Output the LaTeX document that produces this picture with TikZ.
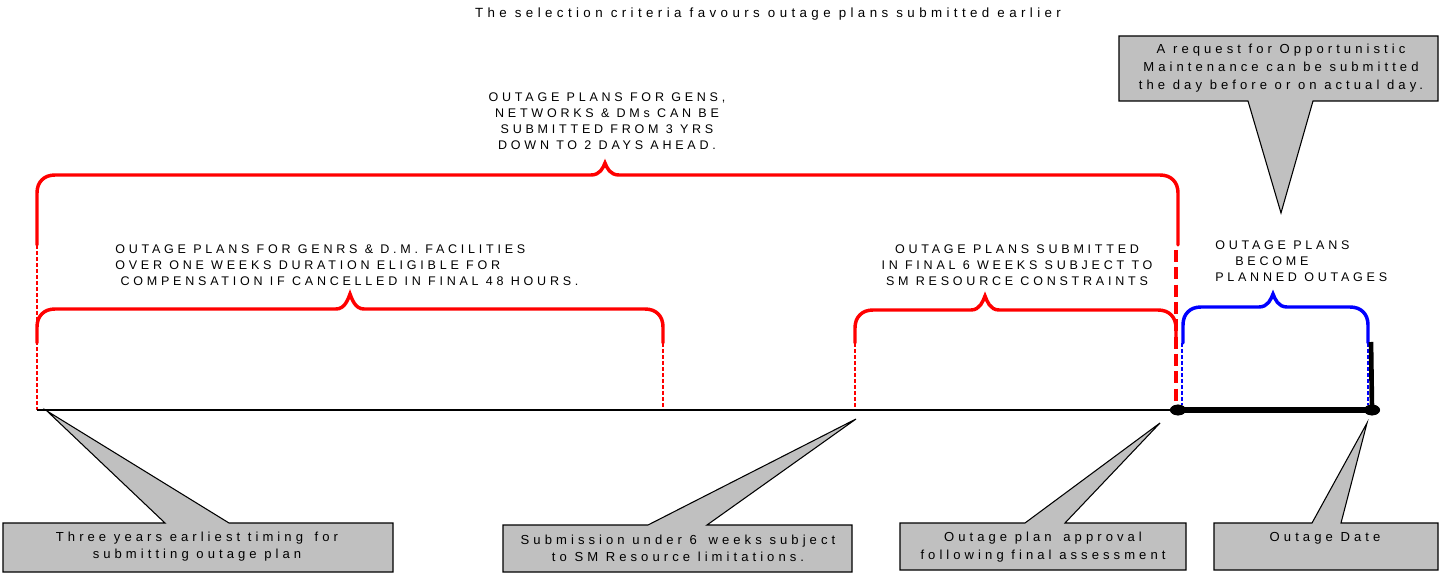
\documentclass[tikz,border=0pt]{standalone}
\usepackage{fontspec}
\setmainfont{Liberation Sans}[LetterSpace=30]
\newfontfamily\lowfont{Liberation Sans}[LetterSpace=33]
\newfontfamily\boxfont{Liberation Sans}[LetterSpace=31]
\usetikzlibrary{shapes.geometric}
\definecolor{cgray}{RGB}{192,192,192}
\newcommand{\drawbrace}[7]{% style, xL, xR, yt, xp, yp, yb
  \draw[#1] (#2,#7) -- (#2,{#4+18}) .. controls (#2,{#4+7}) and ({#2+7},#4) .. ({#2+18},#4)
    -- ({#5-14},#4) .. controls ({#5-5},#4) and ({#5-2},{#6+5}) .. (#5,#6)
    .. controls ({#5+2},{#6+5}) and ({#5+5},#4) .. ({#5+14},#4)
    -- ({#3-18},#4) .. controls ({#3-7},#4) and (#3,{#4+7}) .. (#3,{#4+18}) -- (#3,#7);}
\begin{document}
\begin{tikzpicture}[x=0.75pt,y=-0.75pt,
  txt/.style={inner sep=0pt, align=center, font=\fontsize{9.4}{12}\selectfont},
  ttxt/.style={inner sep=0pt, align=center, font=\lowfont\fontsize{10}{13}\selectfont},
  ctxt/.style={inner sep=0pt, align=center, font=\boxfont\fontsize{9.8}{13}\selectfont},
  redbrace/.style={draw=red, line width=2.6pt, line cap=round},
  bluebrace/.style={draw=blue, line width=2.6pt, line cap=round},
  reddot/.style={draw=red, line width=1.4pt, dash pattern=on 3pt off 1.5pt},
  bluedot/.style={draw=blue, line width=1.4pt, dash pattern=on 3pt off 1.5pt},
  reddash/.style={draw=red, line width=3pt, dash pattern=on 9pt off 4pt},
  callout/.style={fill=cgray, draw=black, line width=0.8pt, line join=miter},
  dotnode/.style={ellipse, fill=black, draw=none, minimum width=12pt, minimum height=8pt, inner sep=0pt}]
\useasboundingbox (0,0) rectangle (1439,573);

% title
\node[ttxt] (title) at (768,14) {The selection criteria favours outage plans submitted earlier};

% timeline points
\coordinate (t0) at (37,410);
\node[dotnode] (tA) at (1178,410) {};
\node[dotnode] (tB) at (1372,410) {};

% dotted guide lines
\draw[reddot] (37,245) -- (t0);
\draw[reddot] (663,343) -- (663,410);
\draw[reddot] (855,343) -- (855,410);
\draw[bluedot] (1182,343) -- (1182,405);
\draw[bluedot] (1368,343) -- (1368,405);
\draw[reddash] (1176,250) -- (1176,404);

% braces
\drawbrace{redbrace}{37}{1178}{175}{605}{163}{245}
\drawbrace{redbrace}{37}{663}{309}{350}{294}{343}
\drawbrace{redbrace}{855}{1176}{310}{985}{296}{343}
\drawbrace{bluebrace}{1183}{1368}{307}{1273}{294}{343}

% timeline
\draw[line width=2pt] (t0) -- (tA.center);
\draw[line width=4.5pt] (tA.center) -- (tB.center);
\draw[line width=3.5pt] (1371,342) -- (tB.center);
\node[dotnode] at (tA) {};
\node[dotnode] at (tB) {};

% brace labels
\node[txt] (lblAll) at (607,121.5) {OUTAGE PLANS FOR GENS,\\NETWORKS \& DMs CAN BE\\SUBMITTED FROM 3 YRS\\ DOWN TO 2 DAYS AHEAD.};
\node[txt, align=left, anchor=west] (lblComp) at (115,265) {OUTAGE PLANS FOR GENRS \& D.M. FACILITIES\\OVER ONE WEEKS DURATION ELIGIBLE FOR\\\hspace{4pt}COMPENSATION IF CANCELLED IN FINAL 48 HOURS.};
\node[txt] (lblSix) at (1017,265) {OUTAGE PLANS SUBMITTED\\IN FINAL 6 WEEKS SUBJECT TO\\SM RESOURCE CONSTRAINTS};
\node[txt, align=left, anchor=west] (lblPlan) at (1215,261.5) {OUTAGE PLANS\\\hspace{15pt}BECOME\\PLANNED OUTAGES};

% callouts
\coordinate (p1) at (47,411);
\draw[callout] (3,523) -- (165,523) -- (p1) -- (229,523) -- (393,523) -- (393,572) -- (3,572) -- cycle;
\node[ctxt] (c1) at (197,546.5) {Three years earliest timing\hspace{3pt} for\\submitting outage plan};

\coordinate (p2) at (856,419);
\draw[callout] (503,525) -- (648,525) -- (p2) -- (707,525) -- (852,525) -- (852,572) -- (503,572) -- cycle;
\node[ctxt] (c2) at (678,548) {Submission under 6\hspace{3pt} weeks subject\\to SM Resource limitations.};

\coordinate (p3) at (1160,423);
\draw[callout] (900,523) -- (1025,523) -- (p3) -- (1065,523) -- (1186,523) -- (1186,570) -- (900,570) -- cycle;
\node[ctxt] (c3) at (1043,547) {Outage plan\hspace{3pt} approval\\following final assessment};

\coordinate (p4) at (1367,423);
\draw[callout] (1214,523) -- (1312,523) -- (p4) -- (1341,523) -- (1438,523) -- (1438,570) -- (1214,570) -- cycle;
\node[ctxt] (c4) at (1325,538) {Outage Date};

\coordinate (p5) at (1281,213);
\draw[callout] (1119,36) -- (1438,36) -- (1438,101) -- (1313,101) -- (p5) -- (1248,101) -- (1119,101) -- cycle;
\node[ctxt, font=\boxfont\fontsize{9.8}{13.5}\selectfont] (c5) at (1281,68) {A request for Opportunistic\\Maintenance can be submitted\\the day before or on actual day.};
\end{tikzpicture}
\end{document}
